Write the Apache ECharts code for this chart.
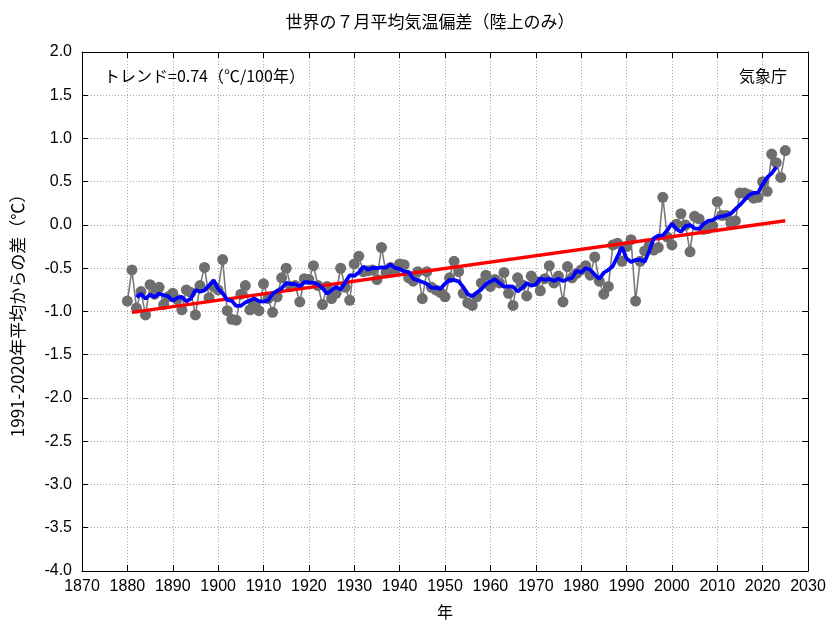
<!DOCTYPE html>
<html>
<head>
<meta charset="utf-8">
<script src="https://cdn.jsdelivr.net/npm/echarts@6/dist/echarts.min.js"></script>
<style>
  html, body { margin: 0; padding: 0; background: #fff; }
  #chart { width: 833px; height: 625px; }
</style>
</head>
<body>
<div id="chart"></div>
<script>
// 世界の7月平均気温偏差（陸上のみ） 1880-2025, 値は図から読み取り
const firstYear = 1880;
const anomalies = [
  -0.88, -0.52, -0.96, -0.77, -1.04, -0.69, -0.80, -0.72, -0.92, -0.83,   // 1880-
  -0.79, -0.86, -0.98, -0.75, -0.78, -1.04, -0.70, -0.49, -0.84, -0.71,   // 1890-
  -0.75, -0.40, -0.99, -1.09, -1.10, -0.80, -0.70, -0.98, -0.90, -0.99,   // 1900-
  -0.68, -0.85, -1.01, -0.83, -0.61, -0.50, -0.71, -0.70, -0.89, -0.62,   // 1910-
  -0.63, -0.47, -0.70, -0.92, -0.71, -0.85, -0.79, -0.50, -0.72, -0.87,   // 1920-
  -0.45, -0.36, -0.54, -0.53, -0.52, -0.63, -0.26, -0.55, -0.49, -0.53,   // 1930-
  -0.45, -0.46, -0.61, -0.65, -0.54, -0.85, -0.54, -0.72, -0.75, -0.78,   // 1940-
  -0.83, -0.61, -0.42, -0.54, -0.79, -0.90, -0.93, -0.83, -0.67, -0.58,   // 1950-
  -0.71, -0.63, -0.67, -0.55, -0.79, -0.93, -0.61, -0.69, -0.82, -0.59,   // 1960-
  -0.65, -0.76, -0.62, -0.47, -0.67, -0.59, -0.89, -0.48, -0.61, -0.56,   // 1970-
  -0.52, -0.47, -0.58, -0.37, -0.65, -0.80, -0.71, -0.23, -0.21, -0.42,   // 1980-
  -0.25, -0.17, -0.88, -0.42, -0.30, -0.24, -0.29, -0.26,  0.32, -0.14,   // 1990-
  -0.23,  0.01,  0.13,  0.00, -0.31,  0.10,  0.07, -0.05, -0.04, -0.01,   // 2000-
   0.27,  0.11,  0.11,  0.02,  0.05,  0.37,  0.37,  0.35,  0.31,  0.32,   // 2010-
   0.50,  0.39,  0.82,  0.72,  0.55,  0.86                                 // 2020-
];
// 長期変化傾向（直線）の両端
const trendYears = [1881, 2025];
const trendValues = [-1.01, 0.05];
const xTicks = { min: 1870, max: 2030, step: 10 };
const yTicks = { min: -4.0, max: 2.0, step: 0.5 };

const years = anomalies.map((v, i) => firstYear + i);
const yearly = years.map((y, i) => [y, anomalies[i]]);

// 5年移動平均（青線）
const running = [];
for (let i = 2; i < anomalies.length - 2; i++) {
  let s = 0;
  for (let k = -2; k <= 2; k++) s += anomalies[i + k];
  running.push([years[i], s / 5]);
}
const trend = trendYears.map((y, i) => [y, trendValues[i]]);

const font = "'Liberation Sans', 'Noto Sans CJK JP', sans-serif";
const jpFont = "'Noto Sans CJK JP', sans-serif";
const gridLine = { show: true, lineStyle: { color: '#a8a8a8', type: [1, 2], width: 1 } };

const chart = echarts.init(document.getElementById('chart'));
chart.setOption({
  backgroundColor: '#ffffff',
  animation: false,
  grid: { left: 82, right: 25, top: 52, bottom: 53 },
  xAxis: [{
    type: 'value', min: xTicks.min, max: xTicks.max, interval: xTicks.step,
    name: '年', nameLocation: 'middle', nameGap: 33,
    nameTextStyle: { fontFamily: jpFont, fontSize: 16, color: '#000' },
    axisLine: { show: true, onZero: false, lineStyle: { color: '#000', width: 1 } },
    axisTick: { show: true, inside: true, length: 6, lineStyle: { color: '#000' } },
    axisLabel: { fontFamily: font, fontSize: 16, color: '#000', margin: 8,
      formatter: v => String(v) },
    splitLine: gridLine
  }, {
    type: 'value', position: 'top', min: xTicks.min, max: xTicks.max, interval: xTicks.step,
    axisLine: { show: true, onZero: false, lineStyle: { color: '#000', width: 1 } },
    axisTick: { show: true, inside: true, length: 6, lineStyle: { color: '#000' } },
    axisLabel: { show: false }, splitLine: { show: false }
  }],
  yAxis: [{
    type: 'value', min: yTicks.min, max: yTicks.max, interval: yTicks.step,
    name: '1991-2020年平均からの差（℃）', nameLocation: 'middle', nameGap: 56,
    nameTextStyle: { fontFamily: jpFont, fontSize: 17, color: '#000' },
    axisLine: { show: true, onZero: false, lineStyle: { color: '#000', width: 1 } },
    axisTick: { show: true, inside: true, length: 6, lineStyle: { color: '#000' } },
    axisLabel: { fontFamily: font, fontSize: 16, color: '#000', margin: 10,
      formatter: v => v.toFixed(1) },
    splitLine: gridLine
  }, {
    type: 'value', position: 'right', min: yTicks.min, max: yTicks.max, interval: yTicks.step,
    axisLine: { show: true, onZero: false, lineStyle: { color: '#000', width: 1 } },
    axisTick: { show: true, inside: true, length: 6, lineStyle: { color: '#000' } },
    axisLabel: { show: false }, splitLine: { show: false }
  }],
  graphic: [{
    type: 'text', x: 430, y: 22,
    style: { text: '世界の７月平均気温偏差（陸上のみ）', font: '17px ' + jpFont, fill: '#000',
      align: 'center', verticalAlign: 'middle' }
  }, {
    type: 'text', left: 104, top: 68,
    style: { text: 'トレンド=0.74（℃/100年）', font: '16px ' + jpFont, fill: '#000' }
  }, {
    type: 'text', right: 46, top: 68,
    style: { text: '気象庁', font: '16px ' + jpFont, fill: '#000' }
  }],
  series: [{
    name: '各年の値', type: 'line', data: yearly, z: 2,
    symbol: 'circle', symbolSize: 11, showAllSymbol: true,
    lineStyle: { color: '#7a7a7a', width: 1.6 },
    itemStyle: { color: '#6e6e6e' }
  }, {
    name: '長期変化傾向', type: 'line', data: trend, z: 3,
    symbol: 'none', lineStyle: { color: '#ff0000', width: 3.5 }
  }, {
    name: '5年移動平均', type: 'line', data: running, z: 4,
    symbol: 'none', lineStyle: { color: '#0000ff', width: 3.8 }
  }]
});
</script>
</body>
</html>
